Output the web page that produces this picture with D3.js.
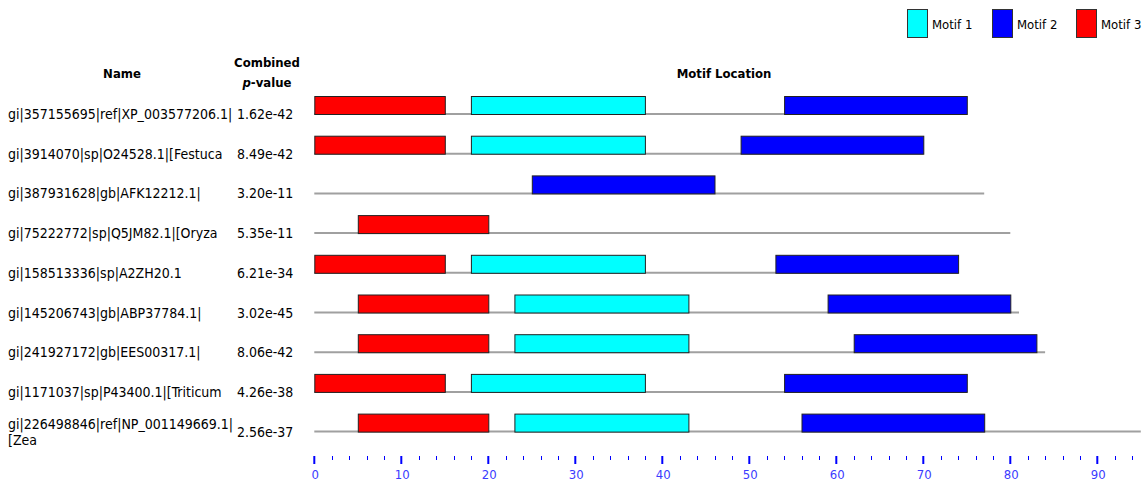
<!DOCTYPE html>
<html>
<head>
<meta charset="utf-8">
<script src="https://cdn.jsdelivr.net/npm/d3@7/dist/d3.min.js"></script>
<style>
  html, body { margin: 0; padding: 0; background: #fff; }
  svg { display: block; }
  text { font-family: "DejaVu Sans Condensed", "DejaVu Sans", sans-serif; }
</style>
</head>
<body>
<svg id="chart" width="1145" height="483"></svg>
<script>
// ---- data ----
const names = [
  ["gi|357155695|ref|XP_003577206.1|"],
  ["gi|3914070|sp|O24528.1|[Festuca"],
  ["gi|387931628|gb|AFK12212.1|"],
  ["gi|75222772|sp|Q5JM82.1|[Oryza"],
  ["gi|158513336|sp|A2ZH20.1"],
  ["gi|145206743|gb|ABP37784.1|"],
  ["gi|241927172|gb|EES00317.1|"],
  ["gi|1171037|sp|P43400.1|[Triticum"],
  ["gi|226498846|ref|NP_001149669.1|", "[Zea"]
];
const pvalues = ["1.62e-42", "8.49e-42", "3.20e-11", "5.35e-11", "6.21e-34", "3.02e-45", "8.06e-42", "4.26e-38", "2.56e-37"];
const seqLengths = [75, 70, 77, 80, 74, 81, 84, 75, 95];
// motif hits: [row, start, end]
const motif1Hits = [[0, 18, 38], [1, 18, 38], [4, 18, 38], [5, 23, 43], [6, 23, 43], [7, 18, 38], [8, 23, 43]];
const motif2Hits = [[0, 54, 75], [1, 49, 70], [2, 25, 46], [4, 53, 74], [5, 59, 80], [6, 62, 83], [7, 54, 75], [8, 56, 77]];
const motif3Hits = [[0, 0, 15], [1, 0, 15], [3, 5, 20], [4, 0, 15], [5, 5, 20], [6, 5, 20], [7, 0, 15], [8, 5, 20]];
const motifNames = ["Motif 1", "Motif 2", "Motif 3"];
const motifColors = ["#00ffff", "#0000ff", "#ff0000"];
const axisMax = 94;

// ---- layout ----
const svg = d3.select("#chart");
const x = d3.scaleLinear().domain([0, axisMax]).range([314.3, 314.3 + axisMax * 8.7]);
const y = d3.scaleLinear().domain([0, names.length - 1]).range([114, 431.6]);
const barH = 18;

// headers
svg.append("text").attr("x", 122).attr("y", 78).attr("text-anchor", "middle")
  .attr("font-weight", "bold").attr("font-size", 13).attr("fill", "#000").text("Name");
svg.append("text").attr("x", 267).attr("y", 67).attr("text-anchor", "middle")
  .attr("font-weight", "bold").attr("font-size", 13).attr("fill", "#000").text("Combined");
const pv = svg.append("text").attr("x", 267).attr("y", 87).attr("text-anchor", "middle")
  .attr("font-weight", "bold").attr("font-size", 13).attr("fill", "#000");
pv.append("tspan").attr("font-style", "italic").text("p");
pv.append("tspan").text("-value");
svg.append("text").attr("x", 724).attr("y", 78).attr("text-anchor", "middle")
  .attr("font-weight", "bold").attr("font-size", 13).attr("fill", "#000").text("Motif Location");

// sequence lines
svg.append("g").selectAll("line").data(seqLengths).join("line")
  .attr("x1", x(0)).attr("x2", d => x(d))
  .attr("y1", (d, i) => y(i)).attr("y2", (d, i) => y(i))
  .attr("stroke", "#a0a0a0").attr("stroke-width", 2);

// motif bars
const allHits = [motif1Hits, motif2Hits, motif3Hits];
allHits.forEach((hits, m) => {
  svg.append("g").selectAll("rect").data(hits).join("rect")
    .attr("x", d => x(d[1]) + 0.5)
    .attr("y", d => y(d[0]) - barH + 0.5)
    .attr("width", d => x(d[2]) - x(d[1]))
    .attr("height", barH)
    .attr("fill", motifColors[m])
    .attr("stroke", "#222").attr("stroke-width", 1);
});

// names
const nameG = svg.append("g");
names.forEach((lines, i) => {
  const t = nameG.append("text").attr("x", 8).attr("font-size", 14).attr("fill", "#000");
  const off = lines.length === 1 ? 5 : -3;
  lines.forEach((l, k) => {
    t.append("tspan").attr("x", 8).attr("y", y(i) + off + k * 16).text(l);
  });
});
// p-values
svg.append("g").selectAll("text").data(pvalues).join("text")
  .attr("x", 237).attr("y", (d, i) => y(i) + 5)
  .attr("font-size", 14).attr("fill", "#000").text(d => d);

// axis
const axisG = svg.append("g").attr("transform", "translate(0,455)");
const majors = d3.range(0, axisMax + 1, 10);
const minors = d3.range(0, axisMax + 1, 2).filter(v => v % 10 !== 0);
axisG.selectAll("line.minor").data(minors).join("line").attr("class", "minor")
  .attr("x1", d => Math.round(x(d)) + 0.5).attr("x2", d => Math.round(x(d)) + 0.5)
  .attr("y1", 1).attr("y2", 5).attr("stroke", "#0000ff").attr("stroke-width", 1);
axisG.selectAll("line.major").data(majors).join("line").attr("class", "major")
  .attr("x1", d => x(d)).attr("x2", d => x(d))
  .attr("y1", 1).attr("y2", 9).attr("stroke", "#0000ff").attr("stroke-width", 2);
axisG.selectAll("text").data(majors).join("text")
  .attr("x", d => x(d) + 1).attr("y", 24).attr("text-anchor", "middle")
  .attr("font-size", 13).attr("fill", "#3b3bff").text(d => d);

// legend
const legX = [907, 992, 1076];
const leg = svg.append("g");
motifNames.forEach((n, i) => {
  leg.append("rect").attr("x", legX[i] + 0.5).attr("y", 9.5).attr("width", 20).attr("height", 28)
    .attr("fill", motifColors[i]).attr("stroke", "#333").attr("stroke-width", 1);
  leg.append("text").attr("x", legX[i] + 25).attr("y", 29).attr("font-size", 13)
    .attr("fill", "#000").text(n);
});
</script>
</body>
</html>
